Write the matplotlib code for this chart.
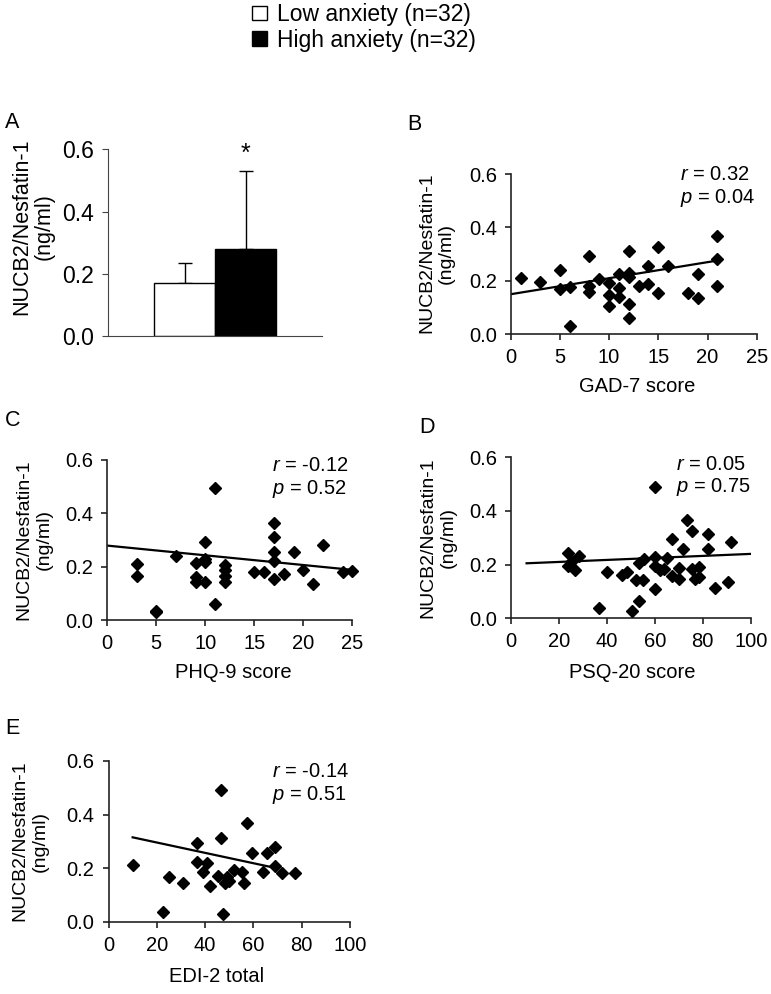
import numpy as np
import matplotlib
matplotlib.use("Agg")
from matplotlib import pyplot as plt

plt.rcParams['font.family'] = ['Liberation Sans', 'DejaVu Sans']
plt.rcParams['mathtext.fontset'] = 'custom'
plt.rcParams['mathtext.it'] = 'Liberation Sans:italic'
plt.rcParams['mathtext.rm'] = 'Liberation Sans'

# panel A - group means with SD
groups = ["Low anxiety (n=32)", "High anxiety (n=32)"]
group_mean = [0.170, 0.278]
group_sd = [0.066, 0.252]

# panel B - GAD-7
gad_x = [1, 3, 5, 5, 6, 6, 8, 8, 8, 9, 10, 10, 10, 11, 11, 11,
         12, 12, 12, 12, 12, 13, 14, 14, 15, 15, 16, 18, 19, 19, 21, 21, 21]
gad_y = [0.212, 0.195, 0.241, 0.170, 0.178, 0.031, 0.294, 0.182, 0.160, 0.206,
         0.193, 0.147, 0.107, 0.224, 0.172, 0.141, 0.312, 0.228, 0.216, 0.114,
         0.062, 0.182, 0.257, 0.187, 0.328, 0.156, 0.257, 0.153, 0.224, 0.135,
         0.368, 0.281, 0.182]
gad_line_x = [0, 21]
gad_line_y = [0.150, 0.276]

# panel C - PHQ-9
phq_x = [3, 3, 5, 5, 7, 9, 9, 9, 10, 10, 10, 10, 11, 11, 12, 12, 12, 12,
         15, 16, 17, 17, 17, 17, 17, 18, 19, 20, 21, 22, 24, 25]
phq_y = [0.210, 0.166, 0.031, 0.035, 0.240, 0.215, 0.163, 0.141, 0.291, 0.228,
         0.216, 0.141, 0.494, 0.060, 0.206, 0.188, 0.166, 0.141, 0.181, 0.181,
         0.365, 0.310, 0.256, 0.221, 0.154, 0.171, 0.256, 0.188, 0.134, 0.281,
         0.181, 0.185]
phq_line_x = [0, 25]
phq_line_y = [0.279, 0.188]

# panel D - PSQ-20
psq_x = [23.6, 23.6, 25.3, 26.7, 28.5, 36.9, 39.9, 46.5, 48.5, 50.3, 52.2, 53.3,
         53.5, 55.2, 55.5, 60.1, 60.1, 60.1, 60.1, 62.2, 64.0, 65.2, 67.0, 67.0,
         70.2, 70.2, 71.9, 73.6, 75.4, 75.4, 76.8, 78.6, 78.6, 82.0, 82.0, 85.1,
         90.4, 91.8]
psq_y = [0.242, 0.196, 0.214, 0.180, 0.234, 0.037, 0.171, 0.161, 0.171, 0.029,
         0.143, 0.205, 0.065, 0.143, 0.220, 0.491, 0.230, 0.196, 0.109, 0.180,
         0.184, 0.226, 0.294, 0.159, 0.147, 0.186, 0.257, 0.366, 0.327, 0.184,
         0.147, 0.193, 0.155, 0.313, 0.258, 0.114, 0.137, 0.283]
psq_line_x = [6.5, 100]
psq_line_y = [0.205, 0.240]

# panel E - EDI-2
edi_x = [10.0, 22.4, 25.1, 30.7, 36.7, 36.7, 39.0, 40.8, 42.2, 46.4, 46.4, 45.3,
         47.4, 48.2, 49.2, 49.9, 51.9, 55.1, 56.1, 57.5, 59.6, 63.8, 65.8, 68.9,
         68.9, 71.8, 77.2]
edi_y = [0.212, 0.037, 0.168, 0.146, 0.293, 0.224, 0.187, 0.218, 0.134, 0.492,
         0.311, 0.172, 0.029, 0.146, 0.168, 0.153, 0.193, 0.187, 0.143, 0.367,
         0.258, 0.187, 0.258, 0.280, 0.208, 0.183, 0.183]
edi_line_x = [10, 70]
edi_line_y = [0.315, 0.199]

W, H = 771, 994
fig = plt.figure(figsize=(W / 100, H / 100), dpi=100)


def px_axes(left, top, right, bottom):
    return fig.add_axes([left / W, 1 - bottom / H, (right - left) / W, (bottom - top) / H])


def ylab(x, y, size=14, spacing=1.2):
    fig.text(x / W, 1 - y / H, "NUCB2/Nesfatin-1\n(ng/ml)", rotation=90,
             ha='center', va='center', multialignment='center',
             fontsize=size, linespacing=spacing)


def letter(s, x, y):
    fig.text(x / W, 1 - y / H, s, ha='center', va='center', fontsize=15.5)


yticks = [0.0, 0.2, 0.4, 0.6]
ylabels = ["0.0", "0.2", "0.4", "0.6"]

# ---- A: bar chart
axA = px_axes(108, 149.3, 322, 336)
pos = [0, 1]
bars = axA.bar(pos, group_mean, width=1.0, color=['white', 'black'],
               edgecolor='black', linewidth=1.0, zorder=2)
axA.errorbar(pos, group_mean, yerr=[[0, 0], group_sd], fmt='none',
             ecolor='black', elinewidth=1.0, capsize=5, capthick=1.0, zorder=1)
axA.text(1, 0.585, "*", ha='center', va='center', fontsize=18)
axA.set_xlim(-1.26, 2.25)
axA.set_ylim(0, 0.6)
axA.set_yticks(yticks)
axA.set_yticklabels(ylabels)
axA.set_xticks([])
for s in ['top', 'right']:
    axA.spines[s].set_visible(False)
for s in ['left', 'bottom']:
    axA.spines[s].set_color('#444444')
    axA.spines[s].set_linewidth(0.8)
axA.tick_params(axis='y', labelsize=16.5, length=4, width=0.8, color='#444444', pad=6)
ylab(33, 227, size=15.5, spacing=1.05)
letter("A", 12, 123)


def scatter_panel(box, xs, ys, lx, ly, xmax, xstep, xlabel, xlab_pos,
                  r_txt, p_txt, txt_pos, ylab_pos, let, let_pos):
    ax = px_axes(*box)
    ax.plot(xs, ys, linestyle='none', marker='D', ms=6.2, color='black',
            clip_on=False, zorder=3)
    ax.plot(lx, ly, color='black', lw=1.6, zorder=2)
    ax.set_xlim(0, xmax)
    ax.set_ylim(0, 0.6)
    ax.set_xticks(np.arange(0, xmax + 1, xstep))
    ax.set_yticks(yticks)
    ax.set_yticklabels(ylabels)
    for s in ['top', 'right']:
        ax.spines[s].set_visible(False)
    for s in ['left', 'bottom']:
        ax.spines[s].set_linewidth(1.2)
        ax.spines[s].set_color('#222222')
    ax.tick_params(axis='both', labelsize=14.5, length=4, width=1.2, color='#222222')
    ax.tick_params(axis='y', pad=6)
    ax.tick_params(axis='x', pad=6)
    tx, ty = txt_pos
    fig.text(tx / W, 1 - ty / H, "$r$ = " + r_txt, ha='left', va='center', fontsize=14.5)
    fig.text(tx / W, 1 - (ty + 23.5) / H, "$p$ = " + p_txt, ha='left', va='center', fontsize=14.5)
    fig.text(xlab_pos[0] / W, 1 - xlab_pos[1] / H, xlabel, ha='center', va='center', fontsize=14.5)
    ylab(*ylab_pos)
    letter(let, *let_pos)
    return ax


scatter_panel((510.7, 174, 756.7, 334.3), gad_x, gad_y, gad_line_x, gad_line_y,
              25, 5, "GAD-7 score", (636.7, 386), "0.32", "0.04", (679.5, 174.3),
              (436.5, 253), "B", (414, 125))
scatter_panel((107.3, 460, 352.3, 620), phq_x, phq_y, phq_line_x, phq_line_y,
              25, 5, "PHQ-9 score", (233, 673), "-0.12", "0.52", (272.5, 465.7),
              (34, 540), "C", (13, 420))
scatter_panel((511, 457.3, 750.7, 618.3), psq_x, psq_y, psq_line_x, psq_line_y,
              100, 20, "PSQ-20 score", (632, 673), "0.05", "0.75", (676, 464),
              (438, 538), "D", (427, 428))
scatter_panel((108.5, 761, 350, 921.7), edi_x, edi_y, edi_line_x, edi_line_y,
              100, 20, "EDI-2 total", (217, 977), "-0.14", "0.51", (272.5, 771.7),
              (30, 841), "E", (12, 728))

# legend at top
fig.legend(bars, groups, loc='upper left', bbox_to_anchor=(252 / W, 1 - 3 / H),
           frameon=False, fontsize=16.5, handlelength=0.65, handleheight=0.6,
           handletextpad=0.45, labelspacing=0.12, borderpad=0, borderaxespad=0)

fig.savefig("out.png", dpi=100)
